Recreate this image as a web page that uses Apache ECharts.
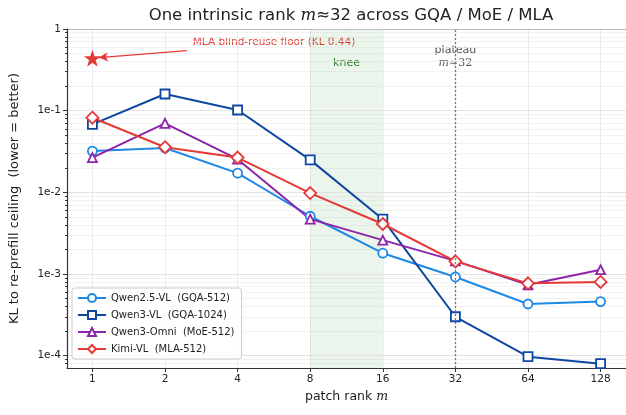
<!DOCTYPE html>
<html>
<head>
<meta charset="utf-8">
<script src="https://cdn.jsdelivr.net/npm/echarts@6/dist/echarts.min.js"></script>
<style>
  html, body { margin: 0; padding: 0; background: #fff; }
  #chart { width: 626px; height: 415px; }
</style>
</head>
<body>
<div id="chart"></div>
<script>
// patch rank m on the x axis
var ranks = [1, 2, 4, 8, 16, 32, 64, 128];
// KL to re-prefill ceiling
var qwen25 = [0.032, 0.035, 0.0172, 0.0051, 0.0018, 0.00092, 0.00043, 0.00046];
var qwen3 = [0.068, 0.16, 0.102, 0.025, 0.0047, 0.0003, 0.0000975, 0.00008];
var omni = [0.0267, 0.070, 0.0255, 0.0047, 0.0026, 0.00145, 0.00074, 0.00113];
var kimi = [0.082, 0.0357, 0.0267, 0.0098, 0.0041, 0.00143, 0.00077, 0.0008];
var floorKL = 0.44;          // MLA blind-reuse floor, drawn at m = 1
var kneeBand = [8, 16];
var plateauRank = 32;
var yMajor = [1e-4, 1e-3, 1e-2, 1e-1, 1];

var FONT = 'DejaVu Sans';
var yMin = -4.15, yMax = 0;

var yMinor = [];
for (var e = -5; e < 0; e++) {
  for (var k = 2; k <= 9; k++) {
    var lv = Math.log10(k) + e;
    if (lv > yMin && lv < yMax) yMinor.push(lv);
  }
}
var log2 = function (v) { return Math.log2(v); };
var toPts = function (vals) {
  return ranks.map(function (r, i) { return [log2(r), Math.log10(vals[i])]; });
};

var chart = echarts.init(document.getElementById('chart'));

function lineSeries(name, vals, color, symbol, extra) {
  var s = {
    name: name,
    type: 'line',
    data: toPts(vals),
    symbol: symbol,
    symbolSize: symbol === 'diamond' ? 12 : 9,
    showAllSymbol: true,
    lineStyle: { color: color, width: 2 },
    itemStyle: { color: '#fff', borderColor: color, borderWidth: 1.8 },
    emphasis: { disabled: true },
    z: 3
  };
  for (var key in extra) s[key] = extra[key];
  return s;
}

var starPath = 'path://M50,0 L61.8,35.1 L97.6,35.1 L68.7,56.8 L79.4,91 L50,70 L20.6,91 L31.3,56.8 L2.4,35.1 L38.2,35.1 Z';

var option = {
  animation: false,
  title: {
    text: '{n|One intrinsic rank }{i|m}{n|≈32 across GQA / MoE / MLA}',
    left: 346, top: 2, textAlign: 'center',
    textStyle: {
      fontWeight: 'normal',
      rich: {
        n: { fontFamily: FONT, fontSize: 16.5, fontWeight: 'normal', color: '#222' },
        i: { fontFamily: 'DejaVu Serif', fontStyle: 'italic', fontWeight: 'normal', fontSize: 16.5, color: '#222' }
      }
    }
  },
  legend: {
    data: ['Qwen2.5-VL  (GQA-512)', 'Qwen3-VL  (GQA-1024)', 'Qwen3-Omni  (MoE-512)', 'Kimi-VL  (MLA-512)'],
    orient: 'vertical',
    left: 72, top: 288,
    itemWidth: 28, itemHeight: 10, itemGap: 7,
    padding: [5, 7, 5, 5],
    backgroundColor: 'rgba(255,255,255,0.85)',
    borderColor: '#ccc', borderWidth: 1, borderRadius: 3,
    textStyle: { fontFamily: FONT, fontSize: 10, color: '#222' }
  },
  grid: { left: 66, top: 29, right: -4, bottom: 47 },
  xAxis: [{
    type: 'value', min: -0.35, max: 7.35,
    name: '{n|patch rank }{i|m}', nameLocation: 'middle', nameGap: 22,
    nameTextStyle: {
      rich: {
        n: { fontFamily: FONT, fontSize: 12.5, color: '#222' },
        i: { fontFamily: 'DejaVu Serif', fontStyle: 'italic', fontSize: 12.5, color: '#222' }
      }
    },
    axisLine: { onZero: false, lineStyle: { color: '#333', width: 1.2 } },
    axisTick: { customValues: [0, 1, 2, 3, 4, 5, 6, 7], length: 4, lineStyle: { color: '#333' } },
    axisLabel: {
      customValues: [0, 1, 2, 3, 4, 5, 6, 7],
      formatter: function (v) { return String(Math.round(Math.pow(2, v))); },
      fontFamily: FONT, fontSize: 10.5, color: '#222', margin: 6
    },
    splitLine: { show: true, lineStyle: { color: '#e6e6e6', width: 0.8 } }
  }, {
    type: 'value', min: -0.35, max: 7.35, position: 'top',
    axisLine: { show: true, onZero: false, lineStyle: { color: '#333', width: 1.2 } },
    axisTick: { show: false }, axisLabel: { show: false }, splitLine: { show: false }
  }],
  yAxis: [{
    type: 'value', min: yMin, max: yMax,
    name: 'KL to re-prefill ceiling  (lower = better)', nameLocation: 'middle', nameGap: 46,
    nameTextStyle: { fontFamily: FONT, fontSize: 13, color: '#222' },
    axisLine: { show: true, onZero: false, lineStyle: { color: '#333', width: 1.2 } },
    axisTick: { customValues: yMajor.map(Math.log10), length: 4, lineStyle: { color: '#333' } },
    axisLabel: {
      customValues: yMajor.map(Math.log10),
      formatter: function (v) { return v === 0 ? '1' : '1e' + Math.round(v); },
      fontFamily: FONT, fontSize: 10.5, color: '#222', margin: 6
    },
    splitLine: { show: true, lineStyle: { color: '#dcdcdc', width: 0.8 } },
    z: 2
  }, {
    type: 'value', min: yMin, max: yMax, position: 'left',
    axisLine: { show: false, onZero: false },
    axisTick: { customValues: yMinor, length: 2, lineStyle: { color: '#333' } },
    axisLabel: { show: false },
    splitLine: { show: true, lineStyle: { color: '#efefef', width: 0.8 } },
    z: 1
  }],
  series: [
    lineSeries('Qwen2.5-VL  (GQA-512)', qwen25, '#1e88e5', 'circle', {
      markArea: {
        silent: true,
        itemStyle: { color: 'rgba(76,160,76,0.11)' },
        data: [[{ xAxis: log2(kneeBand[0]) }, { xAxis: log2(kneeBand[1]) }]]
      },
      markLine: {
        silent: true, symbol: 'none', label: { show: false },
        lineStyle: { color: '#777', type: [2, 2], width: 1.3 },
        data: [{ xAxis: log2(plateauRank) }]
      }
    }),
    lineSeries('Qwen3-VL  (GQA-1024)', qwen3, '#0d47a1', 'rect'),
    lineSeries('Qwen3-Omni  (MoE-512)', omni, '#8e24aa', 'triangle'),
    lineSeries('Kimi-VL  (MLA-512)', kimi, '#e53935', 'diamond'),
    {
      name: 'floor', type: 'scatter',
      data: [[log2(ranks[0]), Math.log10(floorKL)]],
      symbol: starPath, symbolSize: 17,
      itemStyle: { color: '#e53935', opacity: 1 },
      emphasis: { disabled: true },
      z: 4,
      markLine: {
        silent: true, symbol: ['none', 'arrow'], symbolSize: [7, 9],
        label: { show: false },
        lineStyle: { color: '#e53935', width: 1.2, type: 'solid', opacity: 1 },
        data: [[{ coord: [1.30, -0.265] }, { coord: [0.09, -0.35] }]]
      }
    }
  ]
};
chart.setOption(option);

// text annotations, placed through the axes
function px(x, y) { return chart.convertToPixel({ xAxisIndex: 0, yAxisIndex: 0 }, [x, y]); }
var pFloor = px(1.383, -0.159);
var pKnee = px((log2(kneeBand[0]) + log2(kneeBand[1])) / 2, -0.42);
var pPlat = px(log2(plateauRank), -0.26);
var pPlat2 = px(log2(plateauRank), -0.42);
chart.setOption({
  graphic: [
    { type: 'text', x: pFloor[0], y: pFloor[1], style: { text: 'MLA blind-reuse floor (KL 0.44)', fill: '#e53935', font: '10.5px ' + FONT, textAlign: 'left', textVerticalAlign: 'middle' } },
    { type: 'text', x: pKnee[0], y: pKnee[1], style: { text: 'knee', fill: '#2e7d32', font: '11px ' + FONT, textAlign: 'center', textVerticalAlign: 'middle' } },
    { type: 'text', x: pPlat[0], y: pPlat[1], style: { text: 'plateau', fill: '#555', font: '11px ' + FONT, textAlign: 'center', textVerticalAlign: 'middle' } },
    { type: 'text', x: pPlat2[0], y: pPlat2[1], style: { text: '{i|m}{n|≈32}', fill: '#555', textAlign: 'center', textVerticalAlign: 'middle',
      rich: { i: { fontFamily: 'DejaVu Serif', fontStyle: 'italic', fontSize: 11, fill: '#555' }, n: { fontFamily: 'DejaVu Serif', fontSize: 11, fill: '#555' } } } }
  ]
});
</script>
</body>
</html>
